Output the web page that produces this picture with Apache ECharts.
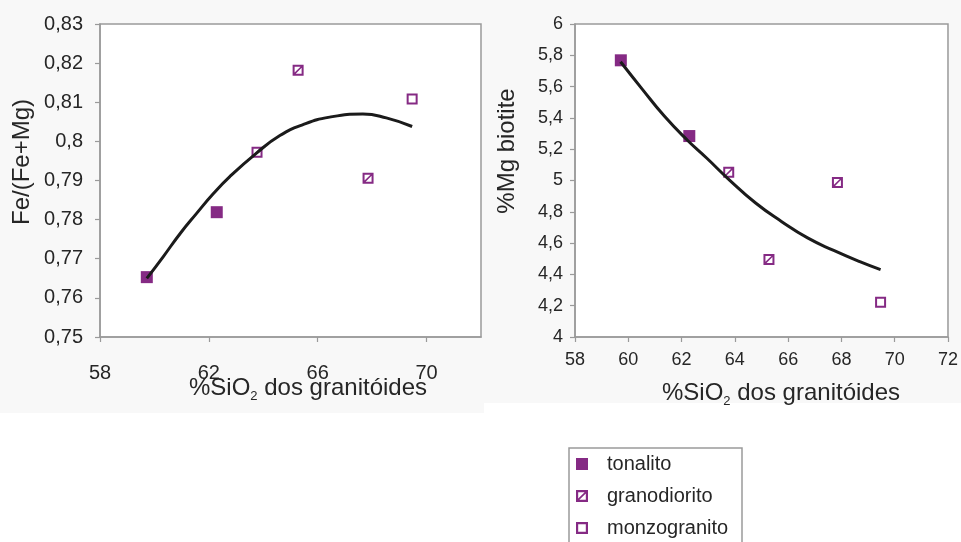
<!DOCTYPE html>
<html>
<head>
<meta charset="utf-8">
<script src="https://cdn.jsdelivr.net/npm/echarts@6/dist/echarts.min.js"></script>
<style>
  html, body { margin: 0; padding: 0; background: #ffffff; }
  #chart { width: 961px; height: 542px; }
</style>
</head>
<body>
<div id="chart"></div>
<script>
// Samples by rock type: SiO2 of the granitoid, Fe/(Fe+Mg) and %Mg of the biotite
const tonalitoSiO2 = [59.72, 62.29];
const tonalitoFeRatio = [0.7653, 0.7819];
const tonalitoMg = [5.768, 5.284];

const granodioritoSiO2 = [63.77, 65.28, 67.85];
const granodioritoFeRatio = [0.7972, 0.8182, 0.7906];
const granodioritoMg = [5.052, 4.496, 4.988];

const monzogranitoSiO2 = [69.47];
const monzogranitoFeRatio = [0.8108];
const monzogranitoMg = [4.222];

// Trend curves
const feTrendSiO2 = [59.72, 60.32, 60.94, 61.55, 62.16, 62.77, 63.75, 64.61, 65.46, 66.44, 67.66, 68.52, 69.47];
const feTrendValues = [0.7650, 0.7705, 0.7764, 0.7816, 0.7866, 0.7910, 0.7970, 0.8015, 0.8043, 0.8062, 0.8070, 0.8060, 0.8038];

const mgTrendSiO2 = [59.71, 60.50, 61.36, 62.21, 62.95, 63.80, 64.78, 65.76, 66.73, 67.71, 68.69, 69.47];
const mgTrendValues = [5.759, 5.589, 5.410, 5.259, 5.142, 5.003, 4.856, 4.737, 4.633, 4.553, 4.481, 4.430];

// Axis ticks
const feTicks = { min: 0.75, max: 0.83, step: 0.01 };
const mgTicks = { min: 4, max: 6, step: 0.2 };
const siLeftTicks = { min: 58, max: 72, step: 4 };
const siRightTicks = { min: 58, max: 72, step: 2 };

const seriesNames = ['tonalito', 'granodiorito', 'monzogranito'];

const FONT = '"Liberation Sans", Arial, sans-serif';
const PURPLE = '#852a84';
const TEXT = '#262626';
const FRAME = '#9a9a9a';

// hollow square and hollow square with a diagonal stroke
const ringPath = 'path://M0 0H11V11H0Z M2 2V9H9V2Z';
const hatchPath = 'path://M0 0H11V11H0Z M2 2V9H9V2Z M2 7.9L7.9 2L9 2L9 3.1L3.1 9L2 9Z';

const pairs = (xs, ys) => xs.map((x, i) => [x, ys[i]]);
const comma = (v, d) => String(Number(v.toFixed(d))).replace('.', ',');

function makeXAxis(gridIndex, t, fontSize, margin, hideMax) {
  return {
    type: 'value', gridIndex: gridIndex,
    min: t.min, max: t.max, interval: t.step,
    axisLine: { show: true, lineStyle: { color: FRAME, width: 1.5 } },
    axisTick: { show: true, length: 5, lineStyle: { color: FRAME, width: 1.2 } },
    splitLine: { show: false },
    axisLabel: {
      fontSize: fontSize, fontFamily: FONT, color: TEXT, margin: margin,
      showMaxLabel: !hideMax, showMinLabel: true
    }
  };
}
function makeYAxis(gridIndex, t, fontSize, margin, digits) {
  return {
    type: 'value', gridIndex: gridIndex,
    min: t.min, max: t.max, interval: t.step,
    axisLine: { show: true, lineStyle: { color: FRAME, width: 1.5 } },
    axisTick: { show: true, length: 5, lineStyle: { color: FRAME, width: 1.2 } },
    splitLine: { show: false },
    axisLabel: {
      fontSize: fontSize, fontFamily: FONT, color: TEXT, margin: margin,
      showMaxLabel: true, showMinLabel: true,
      formatter: v => comma(v, digits)
    }
  };
}

function scatter(name, symbol, size, data, axis) {
  return {
    type: 'scatter', name: name, xAxisIndex: axis, yAxisIndex: axis,
    symbol: symbol, symbolSize: size, z: 2,
    itemStyle: { color: PURPLE, opacity: 1 },
    data: data
  };
}
function trend(xs, ys, axis) {
  return {
    type: 'line', name: 'trend' + axis, xAxisIndex: axis, yAxisIndex: axis,
    showSymbol: false, symbol: 'none', smooth: 0.5, z: 3,
    lineStyle: { color: '#1b1b1b', width: 3 },
    data: pairs(xs, ys)
  };
}

function titleText(x, y, text, size, rotate) {
  return {
    type: 'text', x: x, y: y, rotation: rotate ? Math.PI / 2 : 0, z: 10,
    style: {
      text: text, fill: TEXT, font: size + 'px ' + FONT,
      align: 'center', verticalAlign: 'middle',
      lineHeight: 30,
      rich: {
        m: { fontSize: size, fontFamily: FONT, fill: TEXT, verticalAlign: 'middle', lineHeight: 30 },
        s: { fontSize: 13, fontFamily: FONT, fill: TEXT, verticalAlign: 'bottom', lineHeight: 30 }
      }
    }
  };
}

const chart = echarts.init(document.getElementById('chart'), null, { renderer: 'canvas' });

chart.setOption({
  animation: false,
  backgroundColor: '#ffffff',
  grid: [
    { left: 100, top: 24, width: 381, height: 313, show: true, borderColor: FRAME, borderWidth: 1.5, backgroundColor: '#ffffff' },
    { left: 575, top: 24, width: 382, height: 313, show: true, borderColor: FRAME, borderWidth: 1.5, backgroundColor: '#ffffff' }
  ],
  xAxis: [
    makeXAxis(0, siLeftTicks, 20, 26, true),
    makeXAxis(1, siRightTicks, 18, 14, false)
  ],
  yAxis: [
    makeYAxis(0, feTicks, 20, 17, 2),
    makeYAxis(1, mgTicks, 18, 12, 1)
  ],
  legend: {
    orient: 'vertical', left: 576, top: 454, padding: 0,
    itemWidth: 12, itemHeight: 12, itemGap: 12,
    selectedMode: false,
    textStyle: { fontSize: 20, fontFamily: FONT, color: TEXT, padding: [0, 0, 0, 14] },
    data: [
      { name: seriesNames[0], icon: 'rect' },
      { name: seriesNames[1], icon: hatchPath },
      { name: seriesNames[2], icon: ringPath }
    ]
  },
  graphic: [
    { type: 'rect', z: -10, shape: { x: 0, y: 0, width: 484, height: 413 }, style: { fill: '#f8f8f8' } },
    { type: 'rect', z: -10, shape: { x: 484, y: 0, width: 477, height: 403 }, style: { fill: '#f8f8f8' } },
    { type: 'rect', z: 0, shape: { x: 569, y: 448, width: 173, height: 120 }, style: { fill: '#ffffff', stroke: FRAME, lineWidth: 1.5 } },
    titleText(22, 162, 'Fe/(Fe+Mg)', 24, true),
    titleText(507, 151, '%Mg biotite', 24, true),
    titleText(308, 388, '{m|%SiO}{s|2}{m| dos granitóides}', 24, false),
    titleText(781, 393, '{m|%SiO}{s|2}{m| dos granitóides}', 24, false)
  ],
  series: [
    scatter(seriesNames[0], 'rect', 12, pairs(tonalitoSiO2, tonalitoFeRatio), 0),
    scatter(seriesNames[1], hatchPath, 11, pairs(granodioritoSiO2, granodioritoFeRatio), 0),
    scatter(seriesNames[2], ringPath, 11, pairs(monzogranitoSiO2, monzogranitoFeRatio), 0),
    trend(feTrendSiO2, feTrendValues, 0),
    scatter(seriesNames[0], 'rect', 12, pairs(tonalitoSiO2, tonalitoMg), 1),
    scatter(seriesNames[1], hatchPath, 11, pairs(granodioritoSiO2, granodioritoMg), 1),
    scatter(seriesNames[2], ringPath, 11, pairs(monzogranitoSiO2, monzogranitoMg), 1),
    trend(mgTrendSiO2, mgTrendValues, 1)
  ]
});
</script>
</body>
</html>
